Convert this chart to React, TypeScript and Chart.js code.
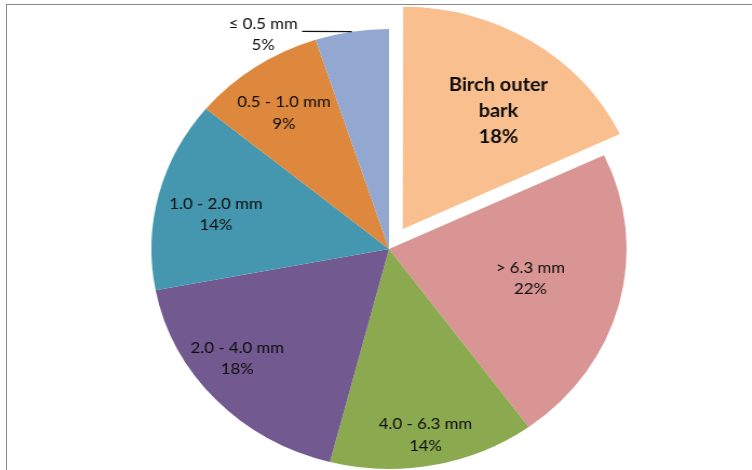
import React, { useEffect, useRef } from "react";
import { Chart, registerables } from "chart.js";

Chart.register(...registerables);

// Particle-size fractions of the ground material (share of total mass, %)
const categories = [
  "Birch outer bark",
  "> 6.3 mm",
  "4.0 - 6.3 mm",
  "2.0 - 4.0 mm",
  "1.0 - 2.0 mm",
  "0.5 - 1.0 mm",
  "≤ 0.5 mm",
];
const shares = [18, 22, 14, 18, 14, 9, 5];

// How each category name is broken into lines inside its slice
const labelLines = [
  ["Birch outer", "bark"],
  ["> 6.3 mm"],
  ["4.0 - 6.3 mm"],
  ["2.0 - 4.0 mm"],
  ["1.0 - 2.0 mm"],
  ["0.5 - 1.0 mm"],
  ["≤ 0.5 mm"],
];

const sliceColors = [
  "#F9BF8F",
  "#D89593",
  "#8BA94F",
  "#72598F",
  "#4497AF",
  "#DD883D",
  "#93A8D1",
];

// Pull-out distance of each slice (Chart.js arc offset units)
const explode = [95, 0, 0, 0, 0, 0, 0];

// Label placement: angular nudge (deg) and distance as a fraction of the radius
const labelPlacement = [
  { dAngle: 4.6, r: 0.66, bold: true, outside: false },
  { dAngle: -1.7, r: 0.61, bold: false, outside: false },
  { dAngle: 0.5, r: 0.86, bold: false, outside: false },
  { dAngle: 5.2, r: 0.81, bold: false, outside: false },
  { dAngle: -2.2, r: 0.745, bold: false, outside: false },
  { dAngle: -1.4, r: 0.76, bold: false, outside: false },
  { dAngle: -19.5, r: 1.11, bold: false, outside: true },
];

const PIE_RADIUS = 220;
const STRETCH_X = 1.08;
const CENTER_X = 389;

const sliceLabels = {
  id: "sliceLabels",
  afterDatasetsDraw(chart: any) {
    const ctx: CanvasRenderingContext2D = chart.ctx;
    const meta = chart.getDatasetMeta(0);
    const data = chart.data.datasets[0].data as number[];
    const total = data.reduce((a, b) => a + b, 0);
    meta.data.forEach((el: any, i: number) => {
      const p = el.getProps(
        ["x", "y", "startAngle", "endAngle", "outerRadius", "circumference"],
        true
      );
      const mid = (p.startAngle + p.endAngle) / 2;
      // same displacement that ArcElement applies for its offset
      const off = (explode[i] || 0) / 4;
      const fix = 1 - Math.sin(Math.min(Math.PI, p.circumference || 0));
      const shift = off + off * fix;
      const cx = p.x + Math.cos(mid) * shift;
      const cy = p.y + Math.sin(mid) * shift;

      const place = labelPlacement[i];
      const a = mid + (place.dAngle * Math.PI) / 180;
      const lx = cx + Math.cos(a) * p.outerRadius * place.r;
      const ly = cy + Math.sin(a) * p.outerRadius * place.r;
      const lines = [...labelLines[i], Math.round((data[i] / total) * 100) + "%"];

      ctx.save();
      ctx.fillStyle = "#0d0d0d";
      ctx.textAlign = "center";
      ctx.textBaseline = "middle";
      const lineH = place.bold ? 26 : place.outside ? 20.5 : 21.5;
      ctx.font = place.bold ? "bold 18.5px Lato" : "15.5px Lato";
      const top = ly - ((lines.length - 1) * lineH) / 2;
      lines.forEach((t, k) => {
        ctx.fillText(t, lx, top + k * lineH);
      });

      if (place.outside) {
        const w = ctx.measureText(lines[0]).width;
        const sx = lx + w / 2 + 4;
        const sy = ly - 3;
        const ex = p.x + Math.cos(mid) * p.outerRadius;
        const ey = p.y + Math.sin(mid) * p.outerRadius;
        ctx.strokeStyle = "#111111";
        ctx.lineWidth = 1.3;
        ctx.beginPath();
        ctx.moveTo(sx, sy);
        ctx.lineTo(ex, ey);
        ctx.stroke();
      }
      ctx.restore();
    });
  },
};

function PieChart() {
  const canvasRef = useRef<HTMLCanvasElement | null>(null);

  useEffect(() => {
    if (!canvasRef.current) return;
    const chart = new Chart(canvasRef.current, {
      type: "pie",
      data: {
        labels: categories,
        datasets: [
          {
            data: shares,
            backgroundColor: sliceColors,
            borderWidth: 0,
            offset: explode,
            radius: PIE_RADIUS,
          } as any,
        ],
      },
      options: {
        responsive: false,
        animation: false,
        devicePixelRatio: 1,
        layout: { padding: { left: 26, top: 28, right: 0, bottom: 0 } },
        plugins: {
          legend: { display: false },
          tooltip: { enabled: false },
        },
        events: [],
      },
      plugins: [sliceLabels],
    });
    return () => chart.destroy();
  }, []);

  return (
    <canvas
      ref={canvasRef}
      width={752}
      height={470}
      style={{
        position: "absolute",
        left: 0,
        top: 0,
        transform: `scaleX(${STRETCH_X})`,
        transformOrigin: `${CENTER_X}px 0px`,
      }}
    />
  );
}

export default function App() {
  return (
    <div
      style={{
        position: "fixed",
        left: 0,
        top: 0,
        width: 752,
        height: 470,
        overflow: "hidden",
        background: "#ffffff",
      }}
    >
      <PieChart />
      <div
        style={{
          position: "absolute",
          left: 6,
          top: 4,
          width: 800,
          height: 500,
          borderTop: "1.5px solid #8a8a8a",
          borderLeft: "1.5px solid #8a8a8a",
          pointerEvents: "none",
        }}
      />
    </div>
  );
}
